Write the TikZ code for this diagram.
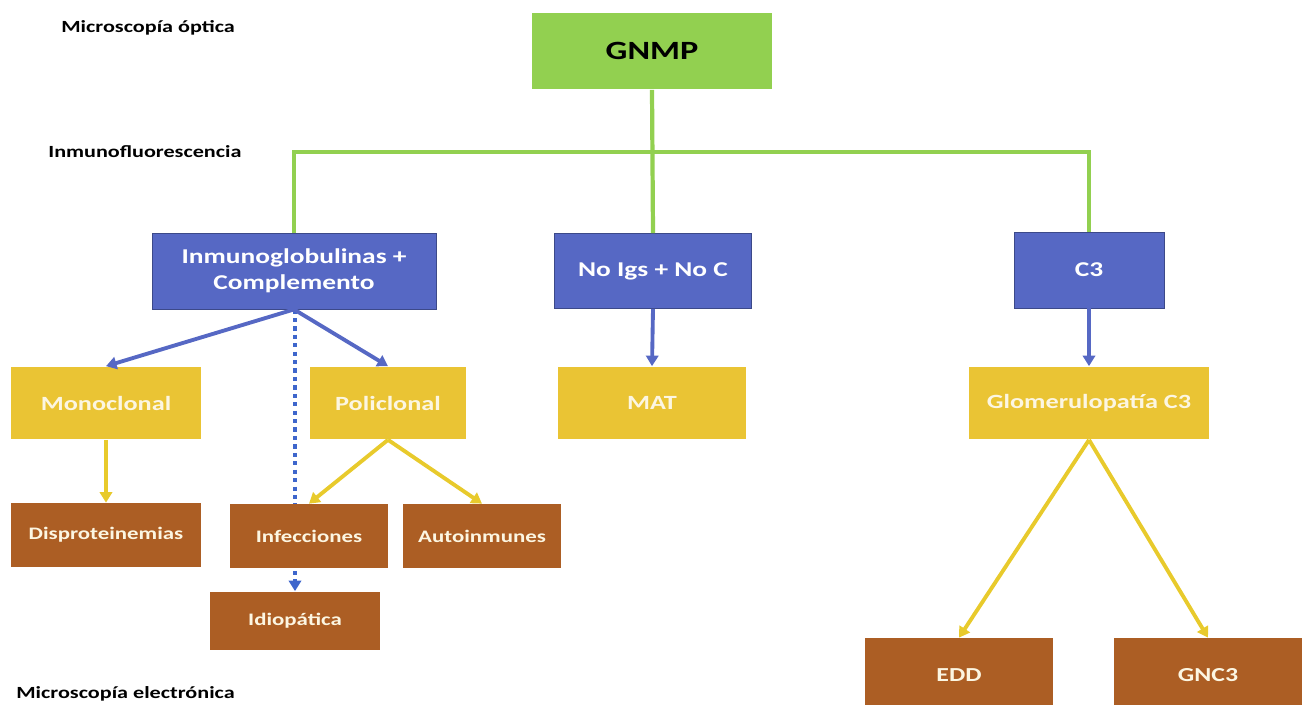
\documentclass[tikz,border=0pt]{standalone}
\usepackage{fontspec}
\setmainfont{Carlito}[FakeStretch=1.3]
\usepackage{tikz}
\usetikzlibrary{arrows.meta, positioning, calc, backgrounds}

\definecolor{gnGreen}{RGB}{146,208,80}
\definecolor{gnBlue}{RGB}{86,104,196}
\definecolor{gnDot}{RGB}{62,102,204}
\definecolor{gnYellow}{RGB}{234,196,52}
\definecolor{gnArrY}{RGB}{232,202,44}
\definecolor{gnBrown}{RGB}{172,94,36}
\definecolor{gnText}{RGB}{252,246,226}

\begin{document}
\begin{tikzpicture}[
    x=0.02cm, y=-0.02cm,
    box/.style={
        rectangle, inner sep=2pt, align=center,
        font=\fontsize{12}{14.5}\selectfont\bfseries
    },
    lvlA/.style={box, fill=gnGreen, text=black,
        font=\fontsize{15}{17}\selectfont\bfseries},
    lvlB/.style={box, fill=gnBlue, text=white, draw=gnBlue!70!black, line width=0.5pt},
    lvlC/.style={box, fill=gnYellow, text=gnText,
        font=\fontsize{11.5}{14}\selectfont\bfseries},
    lvlD/.style={box, fill=gnBrown, text=gnText,
        font=\fontsize{10}{12}\selectfont\bfseries},
    bigD/.style={lvlD, font=\fontsize{11.3}{13}\selectfont\bfseries},
    side/.style={anchor=west, inner sep=0pt, font=\fontsize{9.7}{11}\selectfont\bfseries},
    tree/.style={gnGreen, line width=2.4pt},
    blueArr/.style={-{Triangle[width=7pt,length=6pt]}, gnBlue, line width=2.2pt},
    yelArr/.style={-{Triangle[width=7pt,length=6pt]}, gnArrY, line width=2.2pt},
    dotArr/.style={-{Triangle[width=7pt,length=6pt]}, gnDot, line width=2.4pt,
        dash pattern=on 2.4pt off 2.4pt}
]
\useasboundingbox (0,0) rectangle (1308,705);

% --- side captions ---
\node[side] (capMO) at (61, 28) {Microscopía óptica};
\node[side] (capIF) at (48, 152) {Inmunofluorescencia};
\node[side] (capME) at (16, 694) {Microscopía electrónica};

% --- GNMP (top) ---
\node[lvlA, minimum width=4.82cm, minimum height=1.54cm] (gnmp) at (652, 51) {GNMP};

% --- immunofluorescence level ---
\node[lvlB, minimum width=5.68cm, minimum height=1.52cm] (igc) at (294, 271)
    {Inmunoglobulinas +\\Complemento};
\node[lvlB, minimum width=3.94cm, minimum height=1.5cm] (noig) at (653, 271) {No Igs + No C};
\node[lvlB, minimum width=3.0cm, minimum height=1.52cm] (cthree) at (1089, 270) {C3};

% --- yellow level ---
\node[lvlC, minimum width=3.82cm, minimum height=1.46cm] (mono) at (106, 403) {Monoclonal};
\node[lvlC, minimum width=3.14cm, minimum height=1.46cm] (poli) at (388, 403) {Policlonal};
\node[lvlC, minimum width=3.78cm, minimum height=1.46cm] (mat) at (652, 403) {MAT};
\node[lvlC, minimum width=4.8cm, minimum height=1.46cm] (gcthree) at (1089, 403) {Glomerulopatía C3};

% --- brown level ---
\node[lvlD, minimum width=3.82cm, minimum height=1.28cm] (dispro) at (106, 535) {Disproteinemias};
\node[lvlD, minimum width=3.18cm, minimum height=1.28cm] (infec) at (309, 536) {Infecciones};
\node[lvlD, minimum width=3.16cm, minimum height=1.28cm] (autoin) at (482, 536) {Autoinmunes};
\node[lvlD, minimum width=3.4cm, minimum height=1.18cm] (idio) at (295, 621) {Idiopática};
\node[bigD, minimum width=3.76cm, minimum height=1.48cm] (edd) at (959, 675) {EDD};
\node[bigD, minimum width=3.78cm, minimum height=1.48cm] (gnc) at (1208, 675) {GNC3};

% --- green tree ---
\coordinate (bus) at (652, 152);
\draw[tree] (gnmp.south) -- (noig.north);
\draw[tree] (igc.north) -- (igc.north |- bus) -- (cthree.north |- bus) -- (cthree.north);

% --- blue arrows ---
\draw[blueArr] (igc.south) -- (mono.north);
\draw[blueArr] (igc.south) -- (poli.north);
\draw[blueArr] (noig.south) -- (mat.north);
\draw[blueArr] (cthree.south) -- (gcthree.north);

% --- dotted path behind Infecciones ---
\begin{scope}[on background layer]
\draw[dotArr] (igc.south -| idio.north) -- (idio.north);
\end{scope}

% --- yellow arrows ---
\draw[yelArr] (mono.south) -- (dispro.north);
\draw[yelArr] (poli.south) -- (infec.north);
\draw[yelArr] (poli.south) -- (autoin.north);
\draw[yelArr] (gcthree.south) -- (edd.north);
\draw[yelArr] (gcthree.south) -- (gnc.north);

\end{tikzpicture}
\end{document}
